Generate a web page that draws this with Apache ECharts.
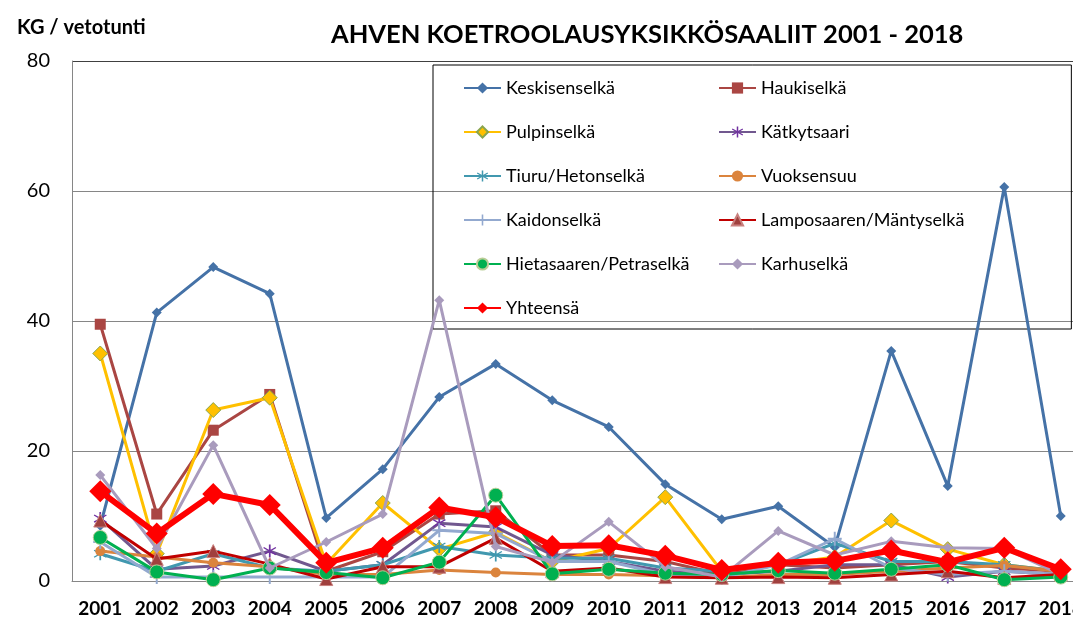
<!DOCTYPE html>
<html><head><meta charset="utf-8">
<script src="https://cdn.jsdelivr.net/npm/echarts@6/dist/echarts.min.js"></script>
<style>html,body{margin:0;padding:0;background:#fff}#c{width:1073px;height:623px}</style>
</head><body><div id="c"></div>
<script>
const years = ['2001','2002','2003','2004','2005','2006','2007','2008','2009','2010','2011','2012','2013','2014','2015','2016','2017','2018'];
const yTicks = [0, 20, 40, 60, 80];
const keskisenselka = [8.5, 41.3, 48.3, 44.2, 9.7, 17.2, 28.3, 33.4, 27.8, 23.7, 14.9, 9.5, 11.5, 5.2, 35.4, 14.6, 60.6, 10.0];
const haukiselka    = [39.5, 10.3, 23.2, 28.7, 1.5, 4.5, 10.3, 10.8, 4.0, 4.0, 3.0, 1.0, 2.5, 2.0, 2.5, 3.0, 2.0, 1.5];
const pulpinselka   = [35.0, 4.2, 26.3, 28.2, 2.6, 12.0, 4.9, 7.5, 3.0, 5.0, 12.9, 1.5, 2.5, 3.7, 9.3, 4.9, 2.5, 1.5];
const katkytsaari   = [9.6, 1.8, 2.3, 4.6, 1.5, 2.5, 8.9, 8.3, 4.0, 3.0, 1.5, 1.0, 1.5, 2.5, 2.5, 0.6, 1.5, 1.0];
const tiuru         = [4.2, 1.5, 4.2, 2.0, 1.5, 2.5, 5.3, 4.0, 3.5, 3.5, 2.0, 1.5, 2.5, 5.8, 3.0, 3.0, 2.5, 1.5];
const vuoksensuu    = [4.6, 3.7, 2.8, 2.2, 1.0, 1.0, 1.7, 1.3, 1.0, 1.0, 0.8, 0.5, 1.0, 1.0, 1.5, 2.0, 2.4, 1.5];
const kaidonselka   = [6.0, 0.6, 0.6, 0.6, 0.6, 0.6, 7.8, 7.3, 3.0, 3.0, 1.0, 0.5, 2.5, 6.5, 2.0, 1.0, 1.5, 1.0];
const lamposaaren   = [9.3, 3.4, 4.6, 2.6, 0.3, 2.2, 2.2, 6.6, 1.5, 2.0, 0.6, 0.5, 0.6, 0.5, 1.0, 1.5, 0.5, 1.0];
const hietasaaren   = [6.7, 1.4, 0.2, 2.0, 1.3, 0.5, 2.9, 13.2, 1.1, 1.8, 1.2, 1.0, 1.6, 1.2, 1.8, 2.5, 0.2, 0.6];
const karhuselka    = [16.3, 5.0, 20.9, 2.0, 6.0, 10.3, 43.2, 5.3, 2.9, 9.1, 2.2, 0.6, 7.7, 4.0, 6.1, 5.1, 5.0, 1.0];
const yhteensa      = [13.8, 7.3, 13.4, 11.7, 2.8, 5.1, 11.3, 9.8, 5.4, 5.5, 3.9, 1.7, 2.8, 3.1, 4.7, 2.9, 5.1, 1.8];

const names = ['Keskisenselkä','Haukiselkä','Pulpinselkä','Kätkytsaari','Tiuru/Hetonselkä','Vuoksensuu','Kaidonselkä','Lamposaaren/Mäntyselkä','Hietasaaren/Petraselkä','Karhuselkä','Yhteensä'];
const datas = [keskisenselka, haukiselka, pulpinselka, katkytsaari, tiuru, vuoksensuu, kaidonselka, lamposaaren, hietasaaren, karhuselka, yhteensa];

const STAR = 'path://M4.4,0h1.2v10h-1.2zM0.5,2.7L1,1.9L9.5,7.3L9,8.1zM0.5,7.3L1,8.1L9.5,2.7L9,1.9z';
const PLUS = 'path://M4.3,0h1.4v10h-1.4zM0,4.3h10v1.4h-10z';
const styles = [
  {line:'#4572A7', w:3, sym:'diamond', size:10, fill:'#4572A7', border:'#4572A7'},
  {line:'#AA4643', w:3, sym:'rect', size:11, fill:'#AA4643', border:'#AA4643'},
  {line:'#FFC000', w:3, sym:'diamond', size:15, fill:'#FFC000', border:'#89A54E'},
  {line:'#71588F', w:3, sym:STAR, size:13, fill:'#7030A0', border:'#7030A0'},
  {line:'#4198AF', w:3, sym:STAR, size:13, fill:'#4198AF', border:'#4198AF'},
  {line:'#DB843D', w:3, sym:'circle', size:10, fill:'#DB843D', border:'#DB843D'},
  {line:'#93A9CF', w:3, sym:PLUS, size:14, fill:'#93A9CF', border:'#93A9CF'},
  {line:'#C00000', w:3, sym:'triangle', size:13, fill:'#A0403E', border:'#C9807E'},
  {line:'#00B050', w:3, sym:'circle', size:14, fill:'#00B050', border:'#B9CD96'},
  {line:'#A99BBD', w:3, sym:'diamond', size:10, fill:'#A99BBD', border:'#A99BBD'},
  {line:'#FF0000', w:6, sym:'diamond', size:22, fill:'#FF0000', border:'#FF0000'}
];

const series = names.map((n, i) => ({
  name: n, type: 'line', data: datas[i],
  symbol: styles[i].sym, symbolSize: styles[i].size, showAllSymbol: true,
  lineStyle: {color: styles[i].line, width: styles[i].w},
  itemStyle: {color: styles[i].fill, borderColor: styles[i].border, borderWidth: (i===2||i===8||i===7)?1:0},
  emphasis: {disabled: true}, animation: false, z: 5 + i
}));

const FONT = 'Lato, "Open Sans", sans-serif';
const chart = echarts.init(document.getElementById('c'));
chart.setOption({
  animation: false,
  title: [
    {text: 'AHVEN KOETROOLAUSYKSIKKÖSAALIIT 2001 - 2018', left: 326, top: 17,
     textStyle: {fontFamily: FONT, fontWeight: 'bold', fontSize: 25.5, color: '#000'}},
    {text: 'KG / vetotunti', left: 12, top: 13,
     textStyle: {fontFamily: FONT, fontWeight: 'bold', fontSize: 20, color: '#000'}}
  ],
  legend: {
    left: 433, top: 65, orient: 'horizontal', width: 540, z: 1,
    padding: [6, 107, 4, 30], itemGap: 10, itemWidth: 37, itemHeight: 14,
    borderColor: '#000', borderWidth: 1, backgroundColor: 'transparent',
    textStyle: {fontFamily: FONT, fontSize: 18, color: '#000', width: 202, lineHeight: 34, overflow: 'none'},
    data: names
  },
  grid: {left: 72, top: 61, width: 1017, bottom: 42, outerBoundsMode: 'none', containLabel: false},
  xAxis: {
    type: 'category', data: years, boundaryGap: true,
    axisLine: {lineStyle: {color: '#868686'}}, axisTick: {show: false},
    axisLabel: {fontFamily: FONT, fontWeight: 'bold', fontSize: 19, color: '#000', margin: 18, interval: 0}
  },
  yAxis: {
    type: 'value', min: yTicks[0], max: yTicks[yTicks.length-1], interval: 20,
    axisLine: {show: true, lineStyle: {color: '#868686'}}, axisTick: {show: false},
    splitLine: {lineStyle: {color: ['#868686','#868686','#868686','#868686','#404040']}},
    axisLabel: {fontFamily: FONT, fontSize: 20, color: '#000', margin: 22}
  },
  series: series
});
</script></body></html>
